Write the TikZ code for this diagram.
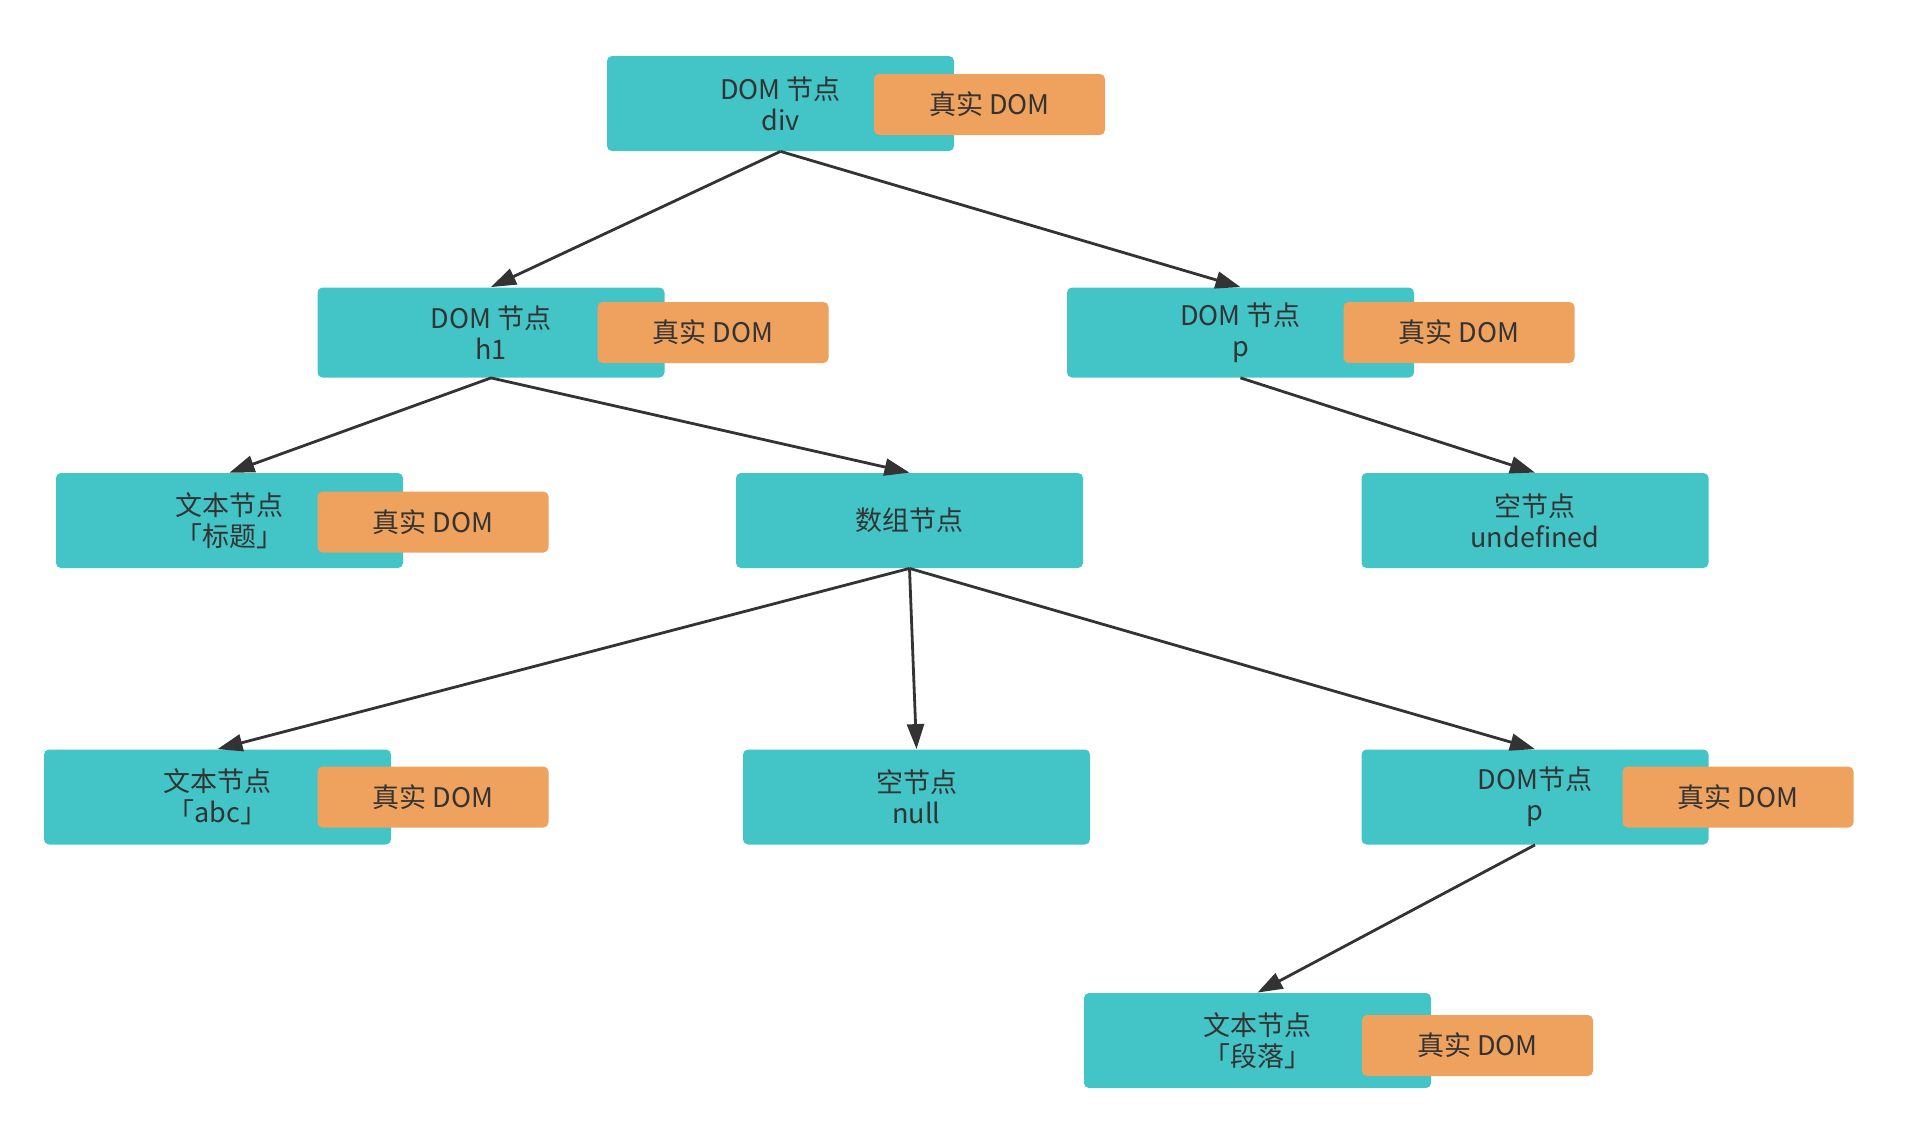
\documentclass[tikz,border=0pt]{standalone}
\usepackage{fontspec}
\newfontfamily\cjk{Noto Sans CJK SC}
\usetikzlibrary{arrows.meta}
\definecolor{tealbox}{HTML}{43C4C6}
\definecolor{orangebox}{HTML}{EFA15E}
\definecolor{ink}{HTML}{333333}
\begin{document}
\begin{tikzpicture}[x=0.5pt,y=-0.5pt,
  tbox/.style={fill=tealbox, rounded corners=2.5pt, minimum width=173.5pt, minimum height=47.5pt,
    inner sep=0pt, font=\cjk\fontsize{13.5}{15.5}\selectfont, text=ink, align=center},
  tboxs/.style={tbox, minimum height=45pt},
  obox/.style={fill=orangebox, rounded corners=2.5pt, minimum width=115.5pt, minimum height=30.5pt,
    inner sep=0pt, font=\cjk\fontsize{13.5}{15.5}\selectfont, text=ink},
  arr/.style={draw=ink, line width=1.4pt, -{Triangle[length=12.5pt,width=8.5pt]}}]
\useasboundingbox (0,0) rectangle (1908,1126);
% teal boxes
\node[tbox]  (root)  at (780.5,103.5) {DOM 节点\\div};
\node[tboxs] (h1)    at (491,332.5)   {DOM 节点\\h1};
\node[tboxs] (p)     at (1240.5,332.5){DOM 节点\\p};
\node[tbox]  (title) at (229.5,520.5) {文本节点\\「标题」};
\node[tbox]  (arr)   at (909.5,520.5) {数组节点};
\node[tbox]  (undef) at (1535,520.5)  {空节点\\undefined};
\node[tbox]  (abc)   at (217.5,797)   {文本节点\\「abc」};
\node[tbox]  (null)  at (916.5,797)   {空节点\\null};
\node[tbox]  (pp)    at (1535,797)    {DOM节点\\p};
\node[tbox]  (para)  at (1257.5,1040.5){文本节点\\「段落」};
% orange boxes
\node[obox] (rootO)  at (989.5,104.5) {真实 DOM};
\node[obox] (h1O)    at (713,332.5)   {真实 DOM};
\node[obox] (pO)     at (1459,332.5)  {真实 DOM};
\node[obox] (titleO) at (433,522)     {真实 DOM};
\node[obox] (abcO)   at (433,797)     {真实 DOM};
\node[obox] (ppO)    at (1738,797)    {真实 DOM};
\node[obox] (paraO)  at (1477.5,1045.5){真实 DOM};
% connectors
\draw[arr] (root.south) -- (h1.north);
\draw[arr] (root.south) -- (p.north);
\draw[arr] (h1.south) -- (title.north);
\draw[arr] (h1.south) -- (arr.north);
\draw[arr] (p.south) -- (undef.north);
\draw[arr] (arr.south) -- (abc.north);
\draw[arr] (arr.south) -- (null.north);
\draw[arr] (arr.south) -- (pp.north);
\draw[arr] (pp.south) -- (para.north);
\end{tikzpicture}
\end{document}
